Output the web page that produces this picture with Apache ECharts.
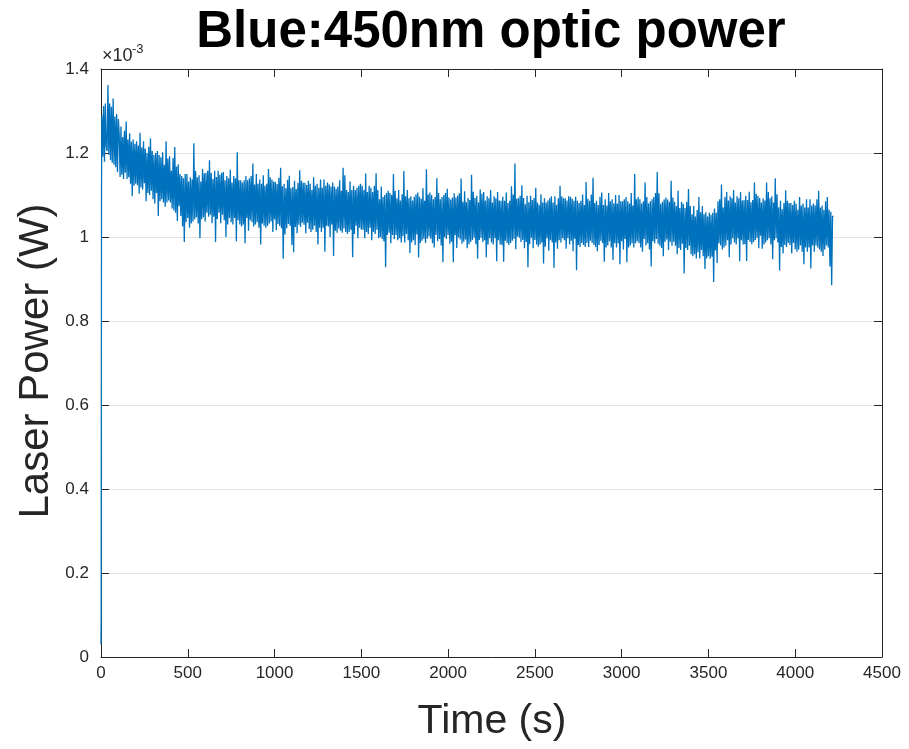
<!DOCTYPE html>
<html>
<head>
<meta charset="utf-8">
<title>Blue:450nm optic power</title>
<script src="https://cdn.jsdelivr.net/npm/echarts@6/dist/echarts.min.js"></script>
<style>
  html, body { margin: 0; padding: 0; background: #ffffff; }
  #chart { width: 909px; height: 749px; }
</style>
</head>
<body>
<div id="chart"></div>
<script>
// Laser power log of the 450 nm blue diode, values in microwatts (µW).
// Switch-on transient, sampled every second.
const startTimes = [0, 1, 2, 3, 4];
const startPower = [30, 95, 640, 1110, 1205];

// Steady run, one sample every 5 s starting at t = 5 s.
const sampleStart = 5;
const sampleStep = 5;
const powerUW = [
  // 5–100 s
  1290, 1191, 1312, 1179, 1318, 1214, 1205, 1362, 1195, 1318, 1183, 1310, 1177, 1330, 1172, 1287, 1166, 1293, 1154, 1281,
  // 105–200 s
  1243, 1143, 1263, 1148, 1238, 1138, 1253, 1153, 1275, 1138, 1232, 1142, 1247, 1127, 1227, 1097, 1232, 1122, 1222, 1127,
  // 205–300 s
  1228, 1123, 1218, 1103, 1248, 1118, 1213, 1113, 1228, 1128, 1210, 1085, 1200, 1105, 1215, 1100, 1235, 1110, 1205, 1090,
  // 305–400 s
  1195, 1080, 1200, 1105, 1205, 1050, 1195, 1085, 1190, 1090, 1202, 1082, 1172, 1072, 1228, 1082, 1187, 1087, 1192, 1082,
  // 405–500 s
  1158, 1068, 1188, 1063, 1214, 1058, 1168, 1038, 1173, 1073, 1150, 1050, 1145, 1025, 1140, 988, 1150, 1035, 1150, 1045,
  // 505–600 s
  1132, 1022, 1142, 1032, 1137, 1037, 1223, 1042, 1157, 1047, 1142, 1032, 1147, 997, 1132, 1042, 1162, 1047, 1152, 1037,
  // 605–700 s
  1153, 1058, 1158, 1048, 1183, 1053, 1153, 1033, 1138, 1048, 1158, 988, 1143, 1043, 1158, 1058, 1148, 1033, 1153, 1053,
  // 705–800 s
  1155, 1040, 1135, 1000, 1145, 1030, 1140, 1045, 1160, 1035, 1130, 1030, 1145, 1045, 1140, 990, 1202, 1040, 1135, 1030,
  // 805–900 s
  1135, 1025, 1130, 1030, 1135, 985, 1145, 1045, 1135, 1015, 1140, 1040, 1145, 1035, 1175, 1025, 1125, 1030, 1150, 1035,
  // 905–1000 s
  1127, 1022, 1137, 982, 1127, 1032, 1147, 1027, 1122, 1022, 1127, 1027, 1162, 1032, 1142, 1037, 1137, 1012, 1132, 1042,
  // 1005–1100 s
  1131, 1016, 1126, 1031, 1141, 1026, 1165, 1021, 1121, 948, 1126, 1006, 1116, 1021, 1136, 1031, 1146, 1026, 1116, 981,
  // 1105–1200 s
  1119, 964, 1134, 1024, 1114, 1009, 1129, 1029, 1159, 1024, 1134, 1034, 1129, 1029, 1129, 1009, 1124, 1034, 1134, 1019,
  // 1205–1300 s
  1127, 1012, 1112, 1017, 1142, 1027, 1122, 1012, 1127, 982, 1117, 1022, 1137, 1012, 1117, 1022, 1137, 965, 1122, 1027,
  // 1305–1400 s
  1130, 1025, 1125, 1000, 1120, 1030, 1130, 955, 1120, 1015, 1115, 1010, 1120, 1020, 1135, 1015, 1110, 1010, 1165, 1020,
  // 1405–1500 s
  1147, 1012, 1112, 1007, 1107, 1012, 1132, 1017, 1112, 952, 1122, 1007, 1112, 1027, 1117, 997, 1122, 1022, 1127, 1017,
  // 1505–1600 s
  1122, 1017, 1112, 997, 1151, 1012, 1107, 1007, 1122, 1022, 1117, 992, 1107, 1012, 1122, 1007, 1152, 1017, 1112, 997,
  // 1605–1700 s
  1090, 1000, 1120, 995, 1095, 990, 1100, 928, 1105, 1005, 1110, 1010, 1105, 985, 1100, 1005, 1150, 995, 1110, 1005,
  // 1705–1800 s
  1092, 992, 1112, 997, 1087, 987, 1102, 1002, 1157, 987, 1097, 1007, 1112, 992, 1092, 962, 1097, 987, 1087, 992,
  // 1805–1900 s
  1096, 981, 1101, 1006, 1106, 951, 1096, 986, 1091, 991, 1116, 996, 1086, 986, 1161, 996, 1101, 1001, 1106, 996,
  // 1905–2000 s
  1100, 985, 1090, 975, 1095, 1005, 1140, 990, 1105, 995, 1090, 980, 1095, 940, 1100, 1000, 1105, 995, 1115, 1005,
  // 2005–2100 s
  1094, 984, 1089, 989, 1094, 940, 1104, 1004, 1094, 974, 1099, 999, 1104, 994, 1139, 984, 1084, 989, 1109, 994,
  // 2105–2200 s
  1083, 973, 1093, 983, 1088, 988, 1148, 993, 1108, 998, 1093, 983, 1098, 948, 1083, 993, 1113, 998, 1103, 988,
  // 2205–2300 s
  1107, 992, 1087, 952, 1097, 982, 1092, 997, 1112, 987, 1082, 982, 1097, 997, 1092, 942, 1107, 992, 1087, 982,
  // 2305–2400 s
  1086, 981, 1096, 941, 1086, 991, 1106, 986, 1081, 981, 1086, 986, 1121, 991, 1101, 996, 1175, 971, 1091, 1001,
  // 2405–2500 s
  1093, 998, 1098, 988, 1123, 993, 1093, 973, 1078, 988, 1098, 928, 1083, 983, 1098, 998, 1088, 973, 1093, 993,
  // 2505–2600 s
  1117, 982, 1082, 977, 1077, 982, 1102, 987, 1082, 937, 1092, 977, 1082, 997, 1087, 967, 1092, 992, 1097, 987,
  // 2605–2700 s
  1082, 927, 1097, 987, 1077, 972, 1092, 992, 1122, 987, 1097, 997, 1092, 992, 1092, 972, 1087, 997, 1097, 982,
  // 2705–2800 s
  1096, 991, 1091, 966, 1086, 996, 1096, 921, 1086, 981, 1081, 976, 1086, 986, 1101, 981, 1076, 976, 1131, 986,
  // 2805–2900 s
  1091, 976, 1086, 991, 1101, 986, 1141, 981, 1081, 976, 1086, 966, 1076, 981, 1096, 991, 1106, 986, 1076, 941,
  // 2905–3000 s
  1090, 975, 1075, 980, 1105, 990, 1085, 975, 1090, 945, 1080, 985, 1100, 975, 1080, 985, 1100, 935, 1085, 990,
  // 3005–3100 s
  1085, 970, 1090, 995, 1095, 940, 1085, 975, 1080, 980, 1105, 985, 1075, 975, 1150, 985, 1090, 990, 1095, 985,
  // 3105–3200 s
  1090, 975, 1080, 965, 1085, 995, 1130, 980, 1095, 985, 1080, 970, 1085, 930, 1090, 990, 1095, 985, 1105, 995,
  // 3205–3300 s
  1155, 984, 1104, 979, 1079, 974, 1084, 954, 1089, 989, 1094, 994, 1089, 969, 1084, 989, 1134, 979, 1094, 989,
  // 3305–3400 s
  1084, 979, 1074, 959, 1110, 974, 1069, 969, 1084, 984, 1079, 913, 1069, 974, 1084, 969, 1114, 979, 1074, 959,
  // 3405–3500 s
  1054, 954, 1074, 959, 1049, 949, 1064, 964, 1095, 949, 1059, 969, 1074, 954, 1054, 924, 1059, 949, 1049, 954,
  // 3505–3600 s
  1058, 948, 1053, 953, 1058, 893, 1068, 968, 1058, 938, 1085, 985, 1090, 980, 1125, 970, 1070, 975, 1095, 980,
  // 3605–3700 s
  1107, 992, 1087, 952, 1097, 982, 1092, 997, 1112, 987, 1082, 982, 1097, 997, 1092, 942, 1107, 992, 1087, 982,
  // 3705–3800 s
  1088, 983, 1098, 943, 1088, 993, 1108, 988, 1083, 983, 1088, 988, 1130, 993, 1103, 998, 1098, 973, 1093, 1003,
  // 3805–3900 s
  1082, 972, 1092, 982, 1087, 987, 1130, 992, 1107, 997, 1092, 982, 1097, 947, 1082, 992, 1140, 997, 1102, 987,
  // 3905–4000 s
  1071, 920, 1086, 976, 1066, 961, 1081, 981, 1111, 976, 1086, 986, 1081, 981, 1081, 961, 1076, 986, 1086, 971,
  // 4005–4100 s
  1080, 965, 1065, 970, 1095, 980, 1075, 965, 1080, 935, 1070, 975, 1090, 965, 1070, 975, 1090, 925, 1075, 980,
  // 4105–4200 s
  1080, 965, 1075, 980, 1090, 975, 1110, 970, 1070, 965, 1075, 955, 1065, 970, 1085, 980, 1095, 975, 1065, 930,
  // 4205–4220 s
  1060, 885, 1050, 1048
];

const chartTitle = 'Blue:450nm optic power';
const xAxisTitle = 'Time (s)';
const yAxisTitle = 'Laser Power (W)';
const xMax = 4500, xStep = 500;
const yMaxUW = 1400, yStepUW = 200;

// [time, power] pairs for the line.
const seriesData = startTimes.map((t, i) => [t, startPower[i]]);
powerUW.forEach((p, i) => seriesData.push([sampleStart + i * sampleStep, p]));

const ink = '#262626';
const font = '"Liberation Sans", Arial, Helvetica, sans-serif';

const chart = echarts.init(document.getElementById('chart'), null, { renderer: 'canvas' });

// Shared look of the four box edges: dark line, ticks pointing inward.
function boxAxis(extra) {
  return Object.assign({
    axisLine: { show: true, onZero: false, lineStyle: { color: ink, width: 1 } },
    axisTick: { show: true, inside: true, length: 8, lineStyle: { color: ink, width: 1 } },
    splitLine: { show: false }
  }, extra);
}

chart.setOption({
  animation: false,
  backgroundColor: '#ffffff',
  grid: { left: 101, right: 27, top: 69, bottom: 92, containLabel: false },
  xAxis: [
    boxAxis({
      type: 'value', min: 0, max: xMax, interval: xStep, position: 'bottom',
      axisLabel: { color: ink, fontSize: 17, fontFamily: font, margin: 8, formatter: v => String(v) }
    }),
    boxAxis({
      type: 'value', min: 0, max: xMax, interval: xStep, position: 'top',
      axisLabel: { show: false }
    })
  ],
  yAxis: [
    boxAxis({
      type: 'value', min: 0, max: yMaxUW, interval: yStepUW, position: 'left',
      axisLabel: {
        color: ink, fontSize: 17, fontFamily: font, margin: 12,
        formatter: v => String(+(v / 1000).toFixed(1))
      },
      splitLine: { show: true, lineStyle: { color: '#e3e3e3', width: 1 } }
    }),
    boxAxis({
      type: 'value', min: 0, max: yMaxUW, interval: yStepUW, position: 'right',
      axisLabel: { show: false }
    })
  ],
  series: [{
    type: 'line',
    xAxisIndex: 0,
    yAxisIndex: 0,
    data: seriesData,
    showSymbol: false,
    symbol: 'none',
    sampling: null,
    lineStyle: { color: '#0072BD', width: 1.3 },
    emphasis: { disabled: true },
    z: 1
  }],
  graphic: [
    {
      type: 'text', x: 491, y: 33, silent: true,
      style: {
        text: chartTitle, fill: '#000000',
        font: 'bold 51px ' + font,
        align: 'center', verticalAlign: 'middle', textAlign: 'center', textVerticalAlign: 'middle'
      }
    },
    {
      type: 'text', x: 492, y: 722, silent: true,
      style: {
        text: xAxisTitle, fill: ink,
        font: '41px ' + font,
        align: 'center', verticalAlign: 'middle', textAlign: 'center', textVerticalAlign: 'middle'
      }
    },
    {
      type: 'text', x: 36, y: 361, rotation: Math.PI / 2, silent: true,
      style: {
        text: yAxisTitle, fill: ink,
        font: '42px ' + font,
        align: 'center', verticalAlign: 'middle', textAlign: 'center', textVerticalAlign: 'middle'
      }
    },
    {
      type: 'text', x: 102, y: 65, silent: true,
      style: {
        text: '×10', fill: ink,
        font: '18px ' + font,
        align: 'left', verticalAlign: 'bottom', textAlign: 'left', textVerticalAlign: 'bottom'
      }
    },
    {
      type: 'text', x: 132, y: 56, silent: true,
      style: {
        text: '-3', fill: ink,
        font: '13px ' + font,
        align: 'left', verticalAlign: 'bottom', textAlign: 'left', textVerticalAlign: 'bottom'
      }
    }
  ]
});
</script>
</body>
</html>
